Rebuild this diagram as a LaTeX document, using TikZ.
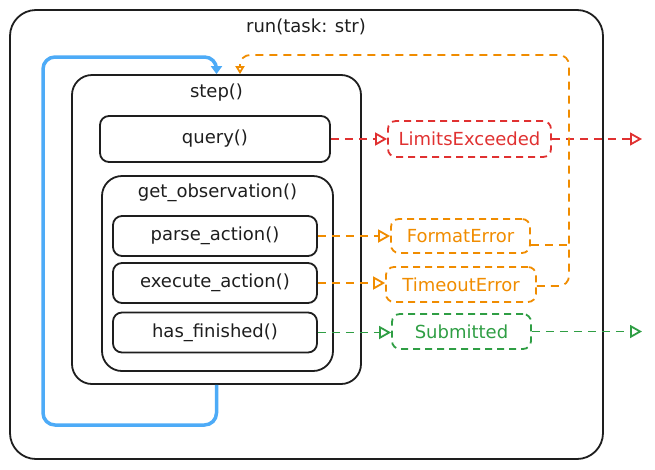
\documentclass[tikz,border=0pt]{standalone}
\usepackage{fontspec}
\setmainfont{DejaVu Sans}
\usetikzlibrary{arrows.meta}
\definecolor{ink}{HTML}{1E1E1E}
\definecolor{xred}{HTML}{E03131}
\definecolor{xorange}{HTML}{F08C00}
\definecolor{xgreen}{HTML}{2F9E44}
\definecolor{xblue}{HTML}{4DABF7}
\tikzset{
  box/.style={draw=ink, line width=1.8pt, rounded corners=9pt, inner sep=0pt},
  bigbox/.style={draw=ink, line width=1.8pt, rounded corners=20pt, inner sep=0pt},
  lbl/.style={font=\fontsize{18}{20}\selectfont, text=ink, inner sep=0pt},
  errbox/.style={line width=1.8pt, dash pattern=on 7pt off 5pt, rounded corners=8pt, inner sep=0pt, font=\fontsize{18}{20}\selectfont},
  flow/.style={line width=1.8pt, dash pattern=on 8pt off 6pt, -{Triangle[open,length=12pt,width=13pt]}},
}
\begin{document}
\begin{tikzpicture}[x=1pt,y=-1pt]
\useasboundingbox (0,0) rectangle (655,469);
% outer
\node[draw=ink, line width=1.8pt, rounded corners=26pt, minimum width=593pt, minimum height=449pt, inner sep=0pt] (run) at (306.5,234.5) {};
\node[lbl] (runl) at (306,27) {run(task: str)};
% step
\node[bigbox, minimum width=289pt, minimum height=309pt] (step) at (216.5,229.5) {};
\node[lbl] (stepl) at (216.5,93) {step()};
\node[box, lbl, minimum width=230pt, minimum height=46pt] (query) at (215,139) {query()};
\node[bigbox, minimum width=231pt, minimum height=195pt] (obs) at (217.5,273.5) {};
\node[lbl] (obsl) at (217.5,193) {get\_observation()};
\node[box, lbl, minimum width=204pt, minimum height=40pt] (parse) at (215,236) {parse\_action()};
\node[box, lbl, minimum width=204pt, minimum height=40pt] (exec) at (215,283) {execute\_action()};
\node[box, lbl, minimum width=204pt, minimum height=40pt] (fin) at (215,332.5) {has\_finished()};
% results
\node[errbox, draw=xred, text=xred, minimum width=163pt, minimum height=36pt] (lim) at (469.5,139) {LimitsExceeded};
\node[errbox, draw=xorange, text=xorange, minimum width=139pt, minimum height=34pt] (fmt) at (460.5,236) {FormatError};
\node[errbox, draw=xorange, text=xorange, minimum width=150pt, minimum height=35pt] (tmo) at (461,284.5) {TimeoutError};
\node[errbox, draw=xgreen, text=xgreen, minimum width=139pt, minimum height=35pt] (sub) at (461.5,331.5) {Submitted};
% coordinates
\coordinate (limend) at (642,139);
\coordinate (subend) at (642,331.5);
\coordinate (oc) at (569,55);
\coordinate (fe) at ([yshift=-9pt]fmt.east);
\coordinate (te) at ([yshift=-1.5pt]tmo.east);
\coordinate (bl) at (43,425);
\coordinate (tl) at (43,57);
\coordinate (stin) at ([xshift=23.5pt]step.north);
% flows
\draw[flow, xred] (query.east) -- (lim.west);
\draw[flow, xred] (lim.east) -- (limend);
\draw[flow, xorange] (parse.east) -- (parse.east -| fmt.west);
\draw[flow, xorange] (exec.east) -- (exec.east -| tmo.west);
\draw[flow, xgreen] (fin.east) -- (fin.east -| sub.west);
\draw[flow, xgreen] (sub.east) -- (subend);
\draw[xorange, line width=1.8pt, dash pattern=on 8pt off 6pt] (fe) -- (fe -| oc);
\draw[xorange, line width=1.8pt, dash pattern=on 8pt off 6pt, rounded corners=10pt, -{Triangle[open,length=8pt,width=9pt]}] (te) -| (oc) -| (stin);
% loop
\draw[xblue, line width=3.5pt, rounded corners=12pt, -{Triangle[length=8pt,width=11pt]}] (step.south) |- (bl) -- (tl) -| (step.north);
\end{tikzpicture}
\end{document}
